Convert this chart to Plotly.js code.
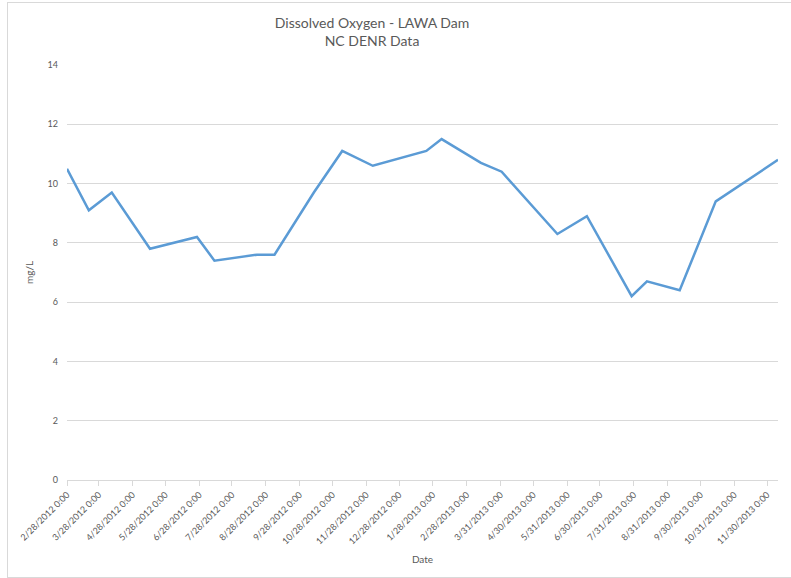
<!DOCTYPE html>
<html>
<head>
<meta charset="utf-8">
<script src="https://cdn.plot.ly/plotly-3.0.1.min.js"></script>
<style>
  html, body { margin: 0; padding: 0; background: #ffffff; overflow: hidden; }
  #wrap { position: relative; width: 791px; height: 578px; }
  #chart { position: absolute; left: 0; top: 0; width: 791px; height: 578px; }
  #frame { position: absolute; left: 7px; top: 2px; width: 800px; height: 574px;
           border: 1px solid #d9d9d9; pointer-events: none; }
</style>
</head>
<body>
<div id="wrap">
  <div id="chart"></div>
  <div id="frame"></div>
</div>
<script>
// Sample dates and dissolved oxygen values (mg/L)
const sampleDates = [
  "2012-02-28", "2012-03-19", "2012-04-09", "2012-05-14", "2012-06-26",
  "2012-07-12", "2012-08-20", "2012-09-05", "2012-10-11", "2012-11-06",
  "2012-12-04", "2013-01-22", "2013-02-05", "2013-03-13", "2013-04-01",
  "2013-05-22", "2013-06-18", "2013-07-29", "2013-08-12", "2013-09-11",
  "2013-10-14", "2013-12-10"
];
const doValues = [
  10.5, 9.1, 9.7, 7.8, 8.2,
  7.4, 7.6, 7.6, 9.7, 11.1,
  10.6, 11.1, 11.5, 10.7, 10.4,
  8.3, 8.9, 6.2, 6.7, 6.4,
  9.4, 10.8
];

// Monthly tick positions and their labels
const tickDates = [
  "2012-02-28", "2012-03-28", "2012-04-28", "2012-05-28", "2012-06-28",
  "2012-07-28", "2012-08-28", "2012-09-28", "2012-10-28", "2012-11-28",
  "2012-12-28", "2013-01-28", "2013-02-28", "2013-03-31", "2013-04-30",
  "2013-05-31", "2013-06-30", "2013-07-31", "2013-08-31", "2013-09-30",
  "2013-10-31", "2013-11-30"
];
const tickLabels = [
  "2/28/2012 0:00", "3/28/2012 0:00", "4/28/2012 0:00", "5/28/2012 0:00", "6/28/2012 0:00",
  "7/28/2012 0:00", "8/28/2012 0:00", "9/28/2012 0:00", "10/28/2012 0:00", "11/28/2012 0:00",
  "12/28/2012 0:00", "1/28/2013 0:00", "2/28/2013 0:00", "3/31/2013 0:00", "4/30/2013 0:00",
  "5/31/2013 0:00", "6/30/2013 0:00", "7/31/2013 0:00", "8/31/2013 0:00", "9/30/2013 0:00",
  "10/31/2013 0:00", "11/30/2013 0:00"
];
const yTicks = [0, 2, 4, 6, 8, 10, 12, 14];

const FONT = "Lato, 'Open Sans', 'Liberation Sans', sans-serif";
const GRAY = "#595959";

const trace = {
  type: "scatter",
  mode: "lines",
  x: sampleDates,
  y: doValues,
  line: { color: "#5b9bd5", width: 2.5 },
  hoverinfo: "x+y"
};

const layout = {
  width: 791,
  height: 578,
  margin: { l: 67, r: 13, t: 65, b: 98 },
  paper_bgcolor: "#ffffff",
  plot_bgcolor: "#ffffff",
  showlegend: false,
  font: { family: FONT, color: GRAY, size: 9 },
  title: {
    text: "Dissolved Oxygen - LAWA Dam<br>NC DENR Data",
    font: { family: FONT, size: 14, color: GRAY },
    x: 372 / 791,
    xanchor: "center",
    xref: "container",
    y: 1 - 27.5 / 578,
    yanchor: "middle",
    yref: "container"
  },
  xaxis: {
    type: "date",
    range: [sampleDates[0], sampleDates[sampleDates.length - 1]],
    tickmode: "array",
    tickvals: tickDates,
    ticktext: tickLabels,
    tickangle: -45,
    tickfont: { family: FONT, size: 9, color: GRAY },
    ticks: "outside",
    ticklen: 5,
    tickcolor: "#d9d9d9",
    showline: true,
    linecolor: "#d9d9d9",
    linewidth: 1,
    showgrid: false,
    zeroline: false,
    automargin: false,
    title: { text: "Date", font: { family: FONT, size: 10, color: GRAY }, standoff: 10 }
  },
  yaxis: {
    range: [0, 14],
    tickmode: "array",
    tickvals: yTicks,
    ticktext: yTicks.map(String),
    tickfont: { family: FONT, size: 9, color: GRAY },
    ticks: "",
    ticklabelstandoff: 8,
    showgrid: true,
    gridcolor: "#d9d9d9",
    gridwidth: 1,
    showline: false,
    zeroline: false,
    automargin: false,
    title: { text: "mg/L", font: { family: FONT, size: 10, color: GRAY }, standoff: 12 }
  }
};

Plotly.newPlot("chart", [trace], layout, { displayModeBar: false, staticPlot: false });
</script>
</body>
</html>
